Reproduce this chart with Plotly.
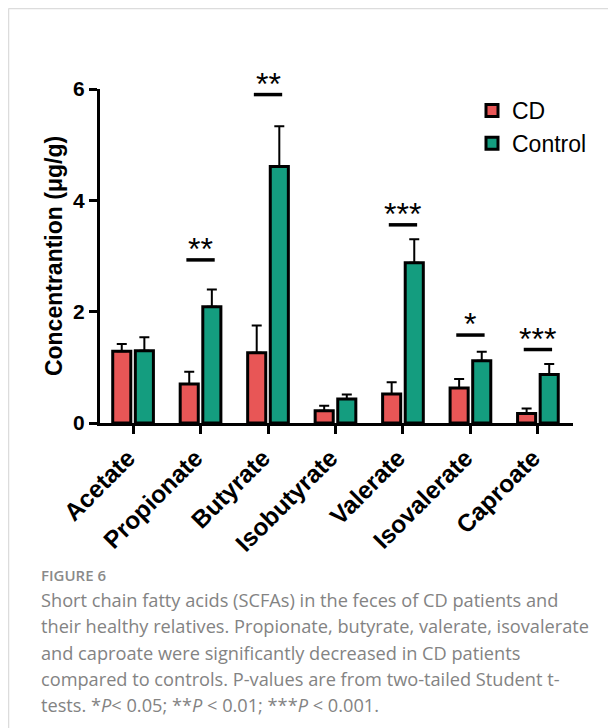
import plotly.graph_objects as go

categories = ["Acetate", "Propionate", "Butyrate", "Isobutyrate", "Valerate", "Isovalerate", "Caproate"]
cd_mean = [1.29, 0.70, 1.26, 0.22, 0.52, 0.63, 0.17]
cd_err = [0.13, 0.22, 0.49, 0.09, 0.21, 0.16, 0.09]
ctrl_mean = [1.30, 2.09, 4.61, 0.43, 2.88, 1.12, 0.87]
ctrl_err = [0.24, 0.31, 0.72, 0.08, 0.42, 0.16, 0.19]
sig_labels = ["", "**", "**", "", "***", "*", "***"]
sig_y = [None, 2.93, 5.90, None, 3.56, 1.58, 1.32]
y_ticks = [0, 2, 4, 6]
caption_title = "FIGURE 6"
caption_lines = [
    "Short chain fatty acids (SCFAs) in the feces of CD patients and",
    "their healthy relatives. Propionate, butyrate, valerate, isovalerate",
    "and caproate were significantly decreased in CD patients",
    "compared to controls. P-values are from two-tailed Student t-",
    "tests. *<i>P</i>< 0.05; **<i>P</i> < 0.01; ***<i>P</i> < 0.001.",
]

OFF = 8  # page offset of the figure (body margin)
W, H = 608, 720
L, R, T, B = 92, 43, 81, 305
PW, PH = W - L - R, H - T - B


def px(x):
    return (x - OFF - L) / PW


def py(y):
    return (H - B - (y - OFF)) / PH


RED = "#E85656"
GREEN = "#149D7F"
FONT = "Liberation Sans, Arial, sans-serif"

fig = go.Figure()
fig.add_trace(go.Bar(
    name="CD", x=categories, y=cd_mean,
    marker=dict(color=RED, line=dict(color="black", width=3)),
    error_y=dict(type="data", array=cd_err, arrayminus=[0] * len(cd_err), symmetric=False,
                 color="black", thickness=2, width=5),
))
fig.add_trace(go.Bar(
    name="Control", x=categories, y=ctrl_mean,
    marker=dict(color=GREEN, line=dict(color="black", width=3)),
    error_y=dict(type="data", array=ctrl_err, arrayminus=[0] * len(ctrl_err), symmetric=False,
                 color="black", thickness=2, width=5),
))

for i, (lab, yv) in enumerate(zip(sig_labels, sig_y)):
    if not lab:
        continue
    fig.add_shape(type="line", xref="x", yref="y", x0=i - 0.21, x1=i + 0.21, y0=yv, y1=yv,
                  line=dict(color="black", width=3.5))
    fig.add_annotation(x=i, y=yv, xref="x", yref="y", text=lab, showarrow=False,
                       yanchor="bottom", yshift=-9, font=dict(family=FONT, size=32, color="black"))

# caption
fig.add_annotation(xref="paper", yref="paper", x=px(39), y=py(575), xanchor="left", yanchor="middle",
                   text=caption_title, showarrow=False,
                   font=dict(family="Open Sans, sans-serif", size=15, color="#8a8a8a", weight=600))
for k, line in enumerate(caption_lines):
    fig.add_annotation(xref="paper", yref="paper", x=px(39), y=py(600 + 26.3 * k), xanchor="left",
                       yanchor="middle", text=line, showarrow=False,
                       font=dict(family="Open Sans, sans-serif", size=18.2, color="#838383"))

# card border
fig.add_shape(type="line", xref="paper", yref="paper", x0=px(8.5), x1=px(W + 20), y0=py(8.5), y1=py(8.5),
              line=dict(color="#dcdcdc", width=1.5))
fig.add_shape(type="line", xref="paper", yref="paper", x0=px(8.5), x1=px(8.5), y0=py(8.5), y1=py(H + 20),
              line=dict(color="#dcdcdc", width=1.5))

fig.update_layout(
    width=W, height=H,
    margin=dict(l=L, r=R, t=T, b=B),
    paper_bgcolor="white", plot_bgcolor="white",
    barmode="group", bargap=0.33, bargroupgap=0.2,
    font=dict(family=FONT, color="black"),
    legend=dict(x=px(472), y=py(89), xanchor="left", yanchor="top",
                font=dict(family=FONT, size=23, color="black"), tracegroupgap=0,
                bgcolor="rgba(0,0,0,0)"),
    showlegend=True,
)
fig.update_xaxes(
    range=[-0.49, 6.52], showline=True, linecolor="black", linewidth=3,
    ticks="outside", ticklen=8, tickwidth=3, tickcolor="black", tickangle=-45,
    tickfont=dict(family=FONT, size=24.5, color="black", weight="bold"),
    ticklabelshift=-5,
    showgrid=False, zeroline=False,
)
fig.update_yaxes(
    range=[0, 6], tickvals=y_ticks, showline=True, linecolor="black", linewidth=3,
    ticks="outside", ticklen=8, tickwidth=3, tickcolor="black",
    tickfont=dict(family=FONT, size=21, color="black", weight="bold"),
    title=dict(text="Concentrantion (μg/g)", standoff=5,
               font=dict(family=FONT, size=23, color="black", weight="bold")),
    showgrid=False, zeroline=False,
)
for tr in fig.data:
    tr.update(cliponaxis=False)

fig.write_html("out.html")
